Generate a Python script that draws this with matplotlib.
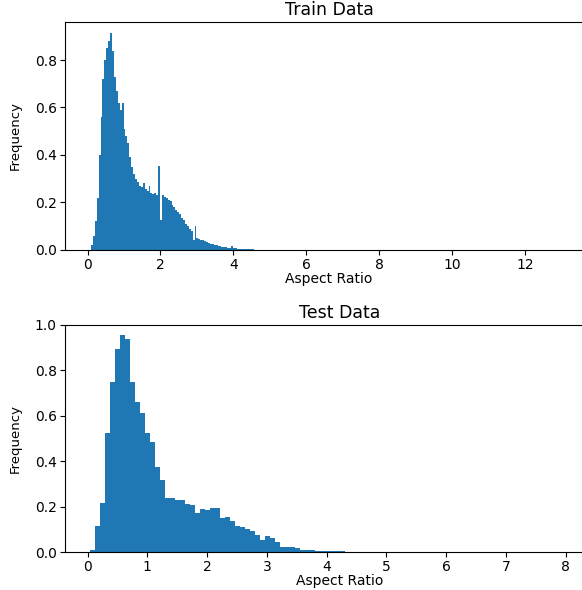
import numpy as np
import matplotlib
matplotlib.use('Agg')
import matplotlib.pyplot as plt

# train histogram: 250 bins between 0.04 and 13.2 (density), visible part
train_lo, train_hi, train_nbins = 0.04, 13.2, 250
train_heights = [
  0.0, 0.02, 0.06, 0.12, 0.22, 0.40, 0.56, 0.72, 0.80, 0.85,
  0.88, 0.915, 0.84, 0.73, 0.67, 0.62, 0.59, 0.62, 0.51, 0.48,
  0.45, 0.39, 0.35, 0.32, 0.30, 0.285, 0.27, 0.265, 0.28, 0.255,
  0.25, 0.27, 0.24, 0.235, 0.24, 0.23, 0.355, 0.125, 0.23, 0.225,
  0.22, 0.21, 0.205, 0.19, 0.18, 0.17, 0.16, 0.15, 0.135, 0.125,
  0.11, 0.10, 0.09, 0.08, 0.04, 0.10, 0.05, 0.047, 0.043, 0.04,
  0.036, 0.033, 0.03, 0.027, 0.024, 0.022, 0.02, 0.017, 0.015, 0.013,
  0.012, 0.011, 0.01, 0.009, 0.016, 0.008, 0.007, 0.006, 0.006, 0.005,
  0.005, 0.004, 0.004, 0.003, 0.003, 0.003, 0.002, 0.002, 0.001,
]
train_heights = train_heights + [0.0] * (train_nbins - len(train_heights))

# test histogram: 100 bins between 0.04 and 8.41 (density)
test_lo, test_hi, test_nbins = 0.04, 8.41, 100
test_heights = [
  0.009, 0.116, 0.217, 0.523, 0.748, 0.893, 0.957, 0.938, 0.748, 0.662,
  0.611, 0.523, 0.483, 0.376, 0.317, 0.240, 0.236, 0.230, 0.229, 0.212,
  0.206, 0.174, 0.191, 0.187, 0.193, 0.193, 0.151, 0.152, 0.135, 0.115,
  0.108, 0.102, 0.094, 0.077, 0.051, 0.070, 0.061, 0.046, 0.024, 0.024,
  0.020, 0.017, 0.010, 0.007, 0.009, 0.004, 0.003, 0.003, 0.003, 0.006,
  0.003,
]
test_heights = test_heights + [0.0] * (test_nbins - len(test_heights))

titles = ['Train Data', 'Test Data']
xlabel = 'Aspect Ratio'
ylabel = 'Frequency'

fig = plt.figure(figsize=(5.82, 5.90), dpi=100)
ax1 = fig.add_axes([0.1117, 0.5763, 0.907, 0.3864])
ax2 = fig.add_axes([0.1117, 0.0644, 0.945, 0.3848])

def draw(ax, lo, hi, n, h, title, ylim):
  edges = np.linspace(lo, hi, n + 1)
  ax.hist(edges[:-1], bins=edges, weights=h, color='#1f77b4')
  span = hi - lo
  ax.set_xlim(lo - 0.05 * span, hi + 0.05 * span)
  ax.set_ylim(*ylim)
  ax.set_title(title, fontsize=12.5, pad=5)
  ax.set_xlabel(xlabel, fontsize=10, labelpad=0)
  ax.set_ylabel(ylabel, fontsize=9.5, labelpad=9)
  ax.tick_params(labelsize=10, pad=2.5)

draw(ax1, train_lo, train_hi, train_nbins, train_heights, titles[0], (0, 0.96))
draw(ax2, test_lo, test_hi, test_nbins, test_heights, titles[1], (0, 1.0))
ax1.set_xticks(range(0, 13, 2))
ax2.set_xticks(range(0, 9))
ax1.set_yticks([0, 0.2, 0.4, 0.6, 0.8])

fig.savefig('out.png', dpi=100)
